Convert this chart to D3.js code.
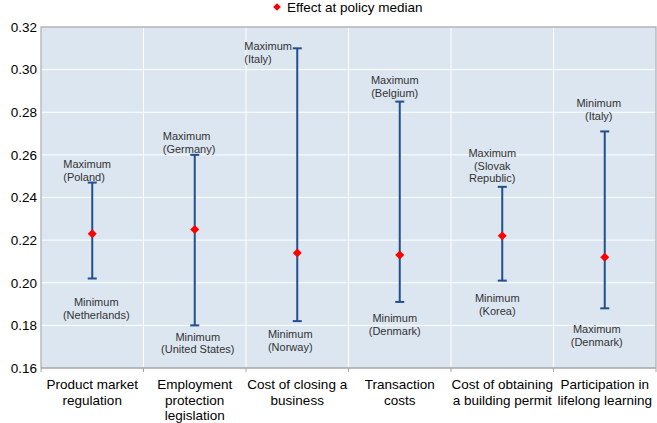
<html>
<head>
<script src="https://cdnjs.cloudflare.com/ajax/libs/d3/7.8.5/d3.min.js"></script>
<style>
  body { margin: 0; background: #fff; }
  text { font-family: "Liberation Sans", Arial, sans-serif; }
</style>
</head>
<body>
<svg id="svg" width="657" height="423"></svg>
<script>
// data
var categories = [
  ["Product market", "regulation"],
  ["Employment", "protection", "legislation"],
  ["Cost of closing a", "business"],
  ["Transaction", "costs"],
  ["Cost of obtaining", "a building permit"],
  ["Participation in", "lifelong learning"]
];
var medianValues = [0.223, 0.225, 0.214, 0.213, 0.222, 0.212];
var upperValues  = [0.247, 0.260, 0.310, 0.285, 0.245, 0.271];
var lowerValues  = [0.202, 0.180, 0.182, 0.191, 0.201, 0.188];
var upperLabels = [
  ["Maximum", "(Poland)"],
  ["Maximum", "(Germany)"],
  ["Maximum", "(Italy)"],
  ["Maximum", "(Belgium)"],
  ["Maximum", "(Slovak", "Republic)"],
  ["Minimum", "(Italy)"]
];
var lowerLabels = [
  ["Minimum", "(Netherlands)"],
  ["Minimum", "(United States)"],
  ["Minimum", "(Norway)"],
  ["Minimum", "(Denmark)"],
  ["Minimum", "(Korea)"],
  ["Maximum", "(Denmark)"]
];
// where each annotation's first line sits, in axis units
var upperLabelAt = [0.2556, 0.2689, 0.3111, 0.2951, 0.2610, 0.2842];
var lowerLabelAt = [0.1911, 0.1747, 0.1758, 0.1833, 0.1927, 0.1783];
var yTicks = [0.16, 0.18, 0.20, 0.22, 0.24, 0.26, 0.28, 0.30, 0.32];
var legendLabel = "Effect at policy median";

// annotation placement (pixels from the bar)
var upperDx = [-29, -32, -53, -5, -10, -6];
var upperAnchor = ["start", "start", "start", "middle", "middle", "middle"];
var lowerDx = [4, 3, -7, -5, -5, -8];

var svg = d3.select("svg");
var plotLeft = 41, plotRight = 656, plotTop = 27, plotBottom = 368;

var x = d3.scaleBand().domain(d3.range(categories.length)).range([plotLeft, plotRight]);
var y = d3.scaleLinear().domain([0.16, 0.32]).range([plotBottom, plotTop]);

svg.append("rect")
  .attr("x", plotLeft).attr("y", plotTop)
  .attr("width", plotRight - plotLeft).attr("height", plotBottom - plotTop)
  .attr("fill", "#dce6f1");

// horizontal gridlines
svg.append("g").selectAll("line").data(yTicks.slice(1)).enter().append("line")
  .attr("x1", plotLeft).attr("x2", plotRight)
  .attr("y1", function(d){ return y(d); }).attr("y2", function(d){ return y(d); })
  .attr("stroke", "#ffffff").attr("stroke-width", 1);

// vertical separators between categories
svg.append("g").selectAll("line").data(d3.range(1, categories.length)).enter().append("line")
  .attr("x1", function(d){ return x(d); }).attr("x2", function(d){ return x(d); })
  .attr("y1", plotTop).attr("y2", plotBottom)
  .attr("stroke", "#ffffff").attr("stroke-width", 1);

// plot border
svg.append("path")
  .attr("d", "M" + plotLeft + "," + plotBottom + "V" + plotTop + "H" + plotRight + "V" + plotBottom)
  .attr("fill", "none").attr("stroke", "#b3b3b3").attr("stroke-width", 1.3);

// y axis
var yAxis = svg.append("g").attr("transform", "translate(" + plotLeft + ",0)")
  .call(d3.axisLeft(y).tickValues(yTicks).tickFormat(d3.format(".2f")).tickSize(0).tickPadding(4));
yAxis.select(".domain").remove();
yAxis.selectAll("text").attr("font-size", 13.5).attr("fill", "#000")
  .attr("font-family", "Liberation Sans, Arial, sans-serif");

// x axis line + ticks at category boundaries
svg.append("line").attr("x1", plotLeft).attr("x2", plotRight).attr("y1", plotBottom).attr("y2", plotBottom)
  .attr("stroke", "#a6a6a6").attr("stroke-width", 1.3);
svg.append("g").selectAll("line").data(d3.range(categories.length + 1)).enter().append("line")
  .attr("x1", function(d){ return plotLeft + d * x.bandwidth(); })
  .attr("x2", function(d){ return plotLeft + d * x.bandwidth(); })
  .attr("y1", plotBottom).attr("y2", plotBottom + 4)
  .attr("stroke", "#a6a6a6").attr("stroke-width", 1);

// category labels
var cat = svg.append("g").selectAll("text").data(categories).enter().append("text")
  .attr("x", function(d, i){ return x(i) + x.bandwidth() / 2; })
  .attr("y", 389)
  .attr("text-anchor", "middle").attr("font-size", 13.5).attr("fill", "#000");
cat.selectAll("tspan").data(function(d){ return d; }).enter().append("tspan")
  .attr("x", function(){ return this.parentNode.getAttribute("x"); })
  .attr("dy", function(d, i){ return i === 0 ? 0 : 15.5; })
  .text(function(d){ return d; });

// error bars
var bars = svg.append("g");
var cx = function(i){ return x(i) + x.bandwidth() / 2; };
var barColor = "#234f8b";
bars.selectAll("line.stem").data(d3.range(categories.length)).enter().append("line")
  .attr("x1", cx).attr("x2", cx)
  .attr("y1", function(i){ return y(upperValues[i]); })
  .attr("y2", function(i){ return y(lowerValues[i]); })
  .attr("stroke", barColor).attr("stroke-width", 2);
[upperValues, lowerValues].forEach(function(vals){
  bars.append("g").selectAll("line").data(d3.range(categories.length)).enter().append("line")
    .attr("x1", function(i){ return cx(i) - 4.5; }).attr("x2", function(i){ return cx(i) + 4.5; })
    .attr("y1", function(i){ return y(vals[i]); }).attr("y2", function(i){ return y(vals[i]); })
    .attr("stroke", barColor).attr("stroke-width", 2);
});

// median diamonds (square turned 45 degrees)
var diamond = d3.symbol().type(d3.symbolSquare).size(40);
svg.append("g").selectAll("path").data(medianValues).enter().append("path")
  .attr("d", diamond)
  .attr("transform", function(d, i){ return "translate(" + cx(i) + "," + y(d) + ") rotate(45)"; })
  .attr("fill", "#ff0000");

// annotations
function annotate(labels, at, dx, anchor){
  var g = svg.append("g").selectAll("text").data(labels).enter().append("text")
    .attr("x", function(d, i){ return cx(i) + dx[i]; })
    .attr("y", function(d, i){ return y(at[i]) + 4; })
    .attr("text-anchor", function(d, i){ return anchor ? anchor[i] : "middle"; })
    .attr("font-size", 11).attr("fill", "#333333");
  g.selectAll("tspan").data(function(d){ return d; }).enter().append("tspan")
    .attr("x", function(){ return this.parentNode.getAttribute("x"); })
    .attr("dy", function(d, i){ return i === 0 ? 0 : 12.8; })
    .text(function(d){ return d; });
}
annotate(upperLabels, upperLabelAt, upperDx, upperAnchor);
annotate(lowerLabels, lowerLabelAt, lowerDx, null);

// legend
svg.append("path").attr("d", d3.symbol().type(d3.symbolSquare).size(30))
  .attr("transform", "translate(277,7) rotate(45)").attr("fill", "#ff0000");
svg.append("text").attr("x", 287).attr("y", 11.5).attr("font-size", 13.5).attr("fill", "#000")
  .text(legendLabel);
</script>
</body>
</html>
